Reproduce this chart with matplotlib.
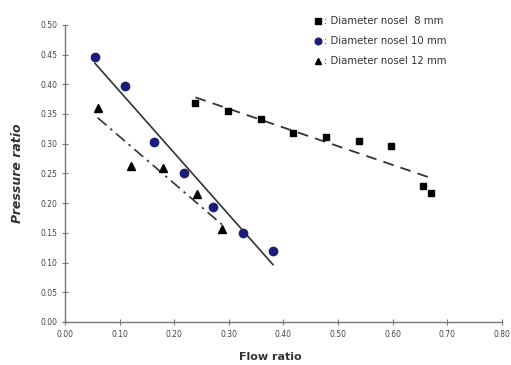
import numpy as np
import matplotlib
matplotlib.use("Agg")
import matplotlib.pyplot as plt

# Data
x8 = [0.239, 0.299, 0.359, 0.418, 0.478, 0.538, 0.598, 0.656, 0.670]
y8 = [0.368, 0.355, 0.341, 0.318, 0.311, 0.305, 0.296, 0.228, 0.217]
x10 = [0.055, 0.110, 0.164, 0.219, 0.272, 0.327, 0.381]
y10 = [0.446, 0.397, 0.302, 0.250, 0.194, 0.150, 0.120]
x12 = [0.060, 0.121, 0.179, 0.241, 0.288]
y12 = [0.360, 0.263, 0.259, 0.215, 0.156]
labels = [": Diameter nosel  8 mm", ": Diameter nosel 10 mm", ": Diameter nosel 12 mm"]
xticks = [0.0, 0.1, 0.2, 0.3, 0.4, 0.5, 0.6, 0.7, 0.8]
yticks = [0.0, 0.05, 0.10, 0.15, 0.20, 0.25, 0.30, 0.35, 0.40, 0.45, 0.50]

fig = plt.figure(figsize=(5.11, 3.65), dpi=100)
ax = fig.add_axes([0.127, 0.118, 0.855, 0.814])

navy = "#1c1c7a"
ax.plot(x8, y8, "s", color="black", ms=5, label=labels[0], zorder=3)
ax.plot(x10, y10, "o", color=navy, ms=6, label=labels[1], zorder=3)
ax.plot(x12, y12, "^", color="black", ms=5.5, label=labels[2], zorder=3)

def fit(xs, ys):
    p = np.polyfit(xs, ys, 1)
    xx = np.array([min(xs), max(xs)])
    return xx, np.polyval(p, xx)

xx, yy = fit(x8, y8)
ax.plot(xx, yy, color="#333333", lw=1.3, ls=(0, (6, 4)))
xx, yy = fit(x10, y10)
ax.plot(xx, yy, color="#333333", lw=1.2, ls="-")
xx, yy = fit(x12, y12)
ax.plot(xx, yy, color="#333333", lw=1.2, ls=(0, (7, 3, 1.5, 3)))

ax.set_xlim(0, 0.8)
ax.set_ylim(0, 0.5)
ax.set_xticks(xticks)
ax.set_yticks(yticks)
ax.set_xticklabels([f"{v:.2f}" for v in xticks])
ax.set_yticklabels([f"{v:.2f}" for v in yticks])
ax.tick_params(labelsize=5.5, labelcolor="#444444", color="#777777", direction="inout", length=4, width=0.8)
for s in ["top", "right"]:
    ax.spines[s].set_visible(False)
for s in ["left", "bottom"]:
    ax.spines[s].set_color("#777777")
    ax.spines[s].set_linewidth(1.0)

ax.set_xlabel("Flow ratio", fontsize=8, fontweight="bold", color="#333333", labelpad=9)
ax.xaxis.set_label_coords(0.47, -0.1)
ax.set_ylabel("Pressure ratio", fontsize=9, fontweight="bold", style="italic", color="#333333", labelpad=12)

leg = ax.legend(loc="upper left", bbox_to_anchor=(0.55, 1.06), frameon=False, fontsize=7.3,
                handlelength=0.8, handletextpad=0.2, labelspacing=1.0, markerscale=0.8)
for t in leg.get_texts():
    t.set_color("#333333")

fig.savefig("out.png", dpi=100)
